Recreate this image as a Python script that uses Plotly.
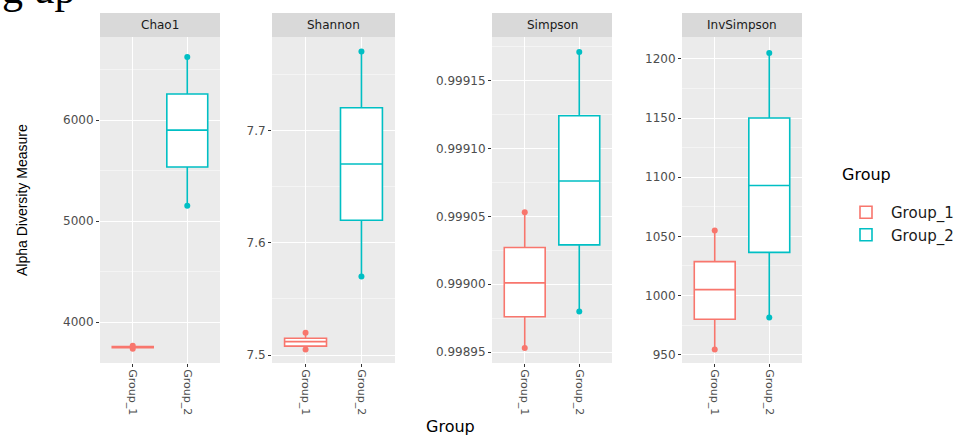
import plotly.graph_objects as go

# ---------------- data ----------------
metrics = ["Chao1", "Shannon", "Simpson", "InvSimpson"]
groups = ["Group_1", "Group_2"]

# each entry: [lower whisker, q1, median, q3, upper whisker]
chao1_g1 = [3735, 3745, 3750, 3756, 3765]
chao1_g2 = [5150, 5535, 5900, 6257, 6624]
shannon_g1 = [7.505, 7.508, 7.512, 7.515, 7.520]
shannon_g2 = [7.570, 7.620, 7.670, 7.720, 7.770]
simpson_g1 = [0.998953, 0.998976, 0.999001, 0.999027, 0.999053]
simpson_g2 = [0.998980, 0.999029, 0.999076, 0.999124, 0.999171]
invsimpson_g1 = [954.5, 980.0, 1005.0, 1028.7, 1055.0]
invsimpson_g2 = [981.5, 1036.5, 1093.0, 1150.0, 1205.0]

stats = {
    "Chao1": [chao1_g1, chao1_g2],
    "Shannon": [shannon_g1, shannon_g2],
    "Simpson": [simpson_g1, simpson_g2],
    "InvSimpson": [invsimpson_g1, invsimpson_g2],
}

y_ranges = {
    "Chao1": [3594, 6822],
    "Shannon": [7.493, 7.783],
    "Simpson": [0.998942, 0.999182],
    "InvSimpson": [943, 1218.5],
}
y_dticks = {"Chao1": 1000, "Shannon": 0.1, "Simpson": 0.00005, "InvSimpson": 50}
y_formats = {"Chao1": "d", "Shannon": ".1f", "Simpson": ".5f", "InvSimpson": "d"}

colors = ["#F8766D", "#00BFC4"]

# ---------------- layout geometry ----------------
W, H = 968, 437
panel_px = [(100, 220), (272, 395), (492, 612), (682, 802)]
panel_top, panel_bot = 37, 363
strip_top = 13

fig = go.Figure()

shapes = []
annotations = []
layout_axes = {}

for i, m in enumerate(metrics):
    n = "" if i == 0 else str(i + 1)
    xa, ya = "x" + n, "y" + n
    for g, (grp, col) in enumerate(zip(groups, colors)):
        lo, q1, med, q3, hi = stats[m][g]
        fig.add_trace(go.Box(
            x=[grp], q1=[q1], median=[med], q3=[q3],
            lowerfence=[lo], upperfence=[hi],
            xaxis=xa, yaxis=ya,
            name=grp, legendgroup=grp, showlegend=(i == 0),
            line=dict(color=col, width=1.6), fillcolor="white",
            width=0.75, whiskerwidth=0, boxpoints=False,
        ))
        fig.add_trace(go.Scatter(
            x=[grp, grp], y=[lo, hi], mode="markers",
            xaxis=xa, yaxis=ya, showlegend=False, legendgroup=grp,
            marker=dict(color=col, size=6), hoverinfo="skip",
        ))
    x0, x1 = panel_px[i]
    dom = [x0 / W, x1 / W]
    layout_axes["xaxis" + n] = dict(
        domain=dom, anchor=ya, type="category", categoryorder="array",
        categoryarray=groups, range=[-0.6, 1.6],
        showgrid=True, gridcolor="white", gridwidth=1.1, zeroline=False,
        ticks="outside", ticklen=3, tickcolor="#333333", tickwidth=1,
        tickangle=90, tickfont=dict(family="DejaVu Sans", size=11, color="#4D4D4D"),
        fixedrange=True, automargin=False,
    )
    layout_axes["yaxis" + n] = dict(
        domain=[1 - panel_bot / H, 1 - panel_top / H], anchor=xa,
        range=y_ranges[m], dtick=y_dticks[m], tickformat=y_formats[m],
        showgrid=True, gridcolor="white", gridwidth=1.1, zeroline=False,
        minor=dict(dtick=y_dticks[m] / 2, showgrid=True, gridcolor="#F4F4F4", gridwidth=0.6),
        ticks="outside", ticklen=3, tickcolor="#333333", tickwidth=1,
        tickfont=dict(family="DejaVu Sans", size=12, color="#4D4D4D"),
        fixedrange=True, automargin=False,
    )
    shapes.append(dict(
        type="rect", xref="paper", yref="paper",
        x0=dom[0], x1=dom[1], y0=1 - panel_top / H, y1=1 - strip_top / H,
        fillcolor="#D9D9D9", line=dict(width=0), layer="below",
    ))
    annotations.append(dict(
        text=m, xref="paper", yref="paper",
        x=(dom[0] + dom[1]) / 2, y=1 - (strip_top + panel_top) / 2 / H,
        showarrow=False, xanchor="center", yanchor="middle",
        font=dict(family="DejaVu Sans", size=12, color="#1A1A1A"),
    ))

annotations.append(dict(
    text="Alpha Diversity Measure", textangle=-90, xref="paper", yref="paper",
    x=22 / W, y=1 - 200 / H, showarrow=False, xanchor="center", yanchor="middle",
    font=dict(family="Liberation Sans", size=14, color="black"),
))
annotations.append(dict(
    text="Group", xref="paper", yref="paper",
    x=450 / W, y=1 - 426 / H, showarrow=False, xanchor="center", yanchor="middle",
    font=dict(family="DejaVu Sans", size=16, color="black"),
))
annotations.append(dict(
    text="Group", xref="paper", yref="paper",
    x=840 / W, y=1 - 174 / H, showarrow=False, xanchor="left", yanchor="middle",
    font=dict(family="DejaVu Sans", size=16, color="black"),
))
annotations.append(dict(
    text="g up", xref="paper", yref="paper",
    x=0, y=1 - 14 / H, showarrow=False, xanchor="left", yanchor="bottom",
    font=dict(family="Liberation Serif", size=42, color="black"),
))

fig.update_layout(
    width=W, height=H,
    margin=dict(l=0, r=0, t=0, b=0, autoexpand=False),
    paper_bgcolor="white", plot_bgcolor="#EBEBEB",
    boxmode="overlay",
    shapes=shapes, annotations=annotations,
    legend=dict(
        x=841 / W, y=1 - 196 / H, xanchor="left", yanchor="top",
        font=dict(family="DejaVu Sans", size=15, color="#1A1A1A"),
        tracegroupgap=0, itemwidth=40, bgcolor="rgba(0,0,0,0)",
    ),
    **layout_axes,
)

fig.write_html(
    "out.html",
    config={"displayModeBar": False},
    post_script="document.body.style.margin='0';document.body.style.padding='0';",
)
